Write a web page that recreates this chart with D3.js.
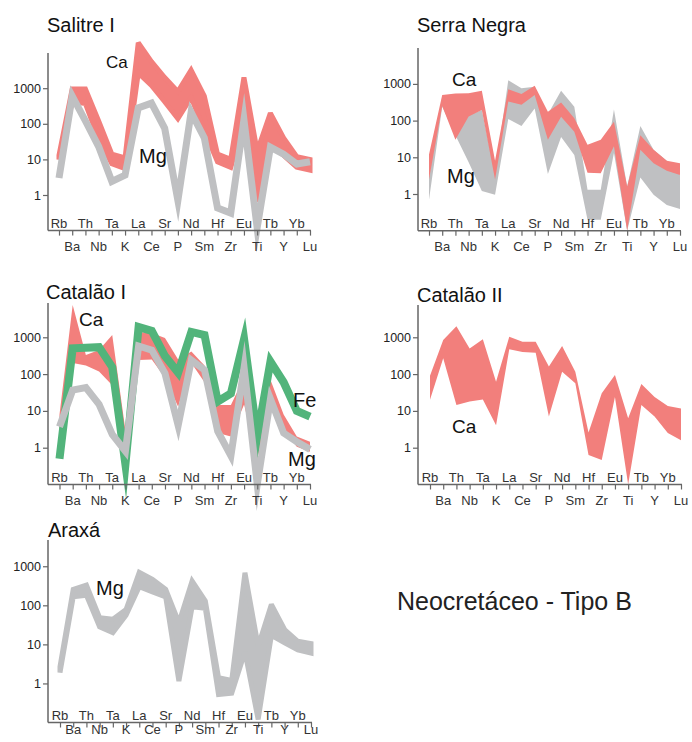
<!DOCTYPE html>
<html>
<head>
<meta charset="utf-8">
<script src="https://cdn.jsdelivr.net/npm/d3@7"></script>
<style>
  body { margin: 0; background: #fff; }
  svg { display: block; font-family: "Liberation Sans", Arial, Helvetica, sans-serif; }
</style>
</head>
<body>
<svg id="chart" width="692" height="742"></svg>
<script>
// Elements of the spider diagram (normalised concentrations, log scale)
const elements = ["Rb","Ba","Th","Nb","Ta","K","La","Ce","Sr","P","Nd","Sm","Hf","Zr","Eu","Ti","Tb","Y","Yb","Lu"];
const yTickValues = [1, 10, 100, 1000];

// Salitre I
const salitreCaMax = [13, 950, 950, 120, 14, 11, 19000, 5600, 2000, 800, 3200, 600, 14, 10, 2000, 17, 200, 40, 12, 10];
const salitreCaMin = [10, 420, 370, 38, 7.5, 5.5, 2700, 1200, 420, 140, 550, 65, 8.5, 6, 110, 0.65, 25, 13, 6, 5];
const salitreMg    = [3, 600, 120, 23, 2.4, 3.6, 280, 380, 75, 0.7, 210, 40, 0.43, 0.31, 130, 0.12, 22, 14, 7.4, 8.6];

// Serra Negra
const serraCaMax = [12, 500, 550, 560, 650, 8, 710, 530, 890, 175, 310, 115, 22, 30, 93, 1.6, 40, 16, 8.1, 6.9];
const serraCaMin = [2.5, 250, 30, 130, 195, 2.5, 330, 270, 500, 30, 128, 50, 3.8, 3.7, 20, 0.1, 16, 6.9, 4.3, 3.3];
const serraMgMax = [3, 450, 400, 140, 195, 3.5, 1250, 760, 840, 150, 650, 240, 1.3, 1.3, 200, 1.6, 71, 16, 8, 3.3];
const serraMgMin = [0.7, 240, 40, 7.3, 1.2, 0.95, 110, 71, 215, 3.5, 36, 11.5, 0.2, 0.2, 13, 0.1, 2.8, 0.95, 0.5, 0.39];

// Catalão I
const catalao1CaMax = [8, 7500, 330, 450, 1150, 3, 1400, 1300, 950, 250, 410, 170, 14.5, 14.5, 80, 3, 70, 8, 2, 1.45];
const catalao1CaMin = [1, 200, 170, 117, 50, 0.5, 240, 250, 80, 13, 200, 60, 2.5, 2, 15, 0.5, 14, 3, 1.06, 0.78];
const catalao1Fe    = [0.5, 500, 520, 540, 155, 0.35, 1900, 1500, 310, 110, 1400, 1150, 18, 30, 900, 2, 220, 60, 10, 7];
const catalao1Mg    = [3.7, 37, 43, 15, 2.3, 0.8, 580, 450, 105, 4, 240, 130, 2.8, 0.6, 150, 0.1, 21, 2.5, 1.45, 0.9];

// Catalão II
const catalao2CaMax = [90, 850, 2000, 500, 880, 62, 1040, 760, 760, 160, 580, 115, 2.6, 30, 94, 6.3, 54, 24, 13.5, 11.7];
const catalao2CaMin = [20, 270, 14.5, 18, 20.5, 4.1, 470, 400, 380, 7, 115, 56, 0.63, 0.46, 24, 0.1, 14.5, 7, 2.5, 1.6];

// Araxá
const araxaMgMax = [2.7, 255, 330, 48, 44, 78, 700, 460, 255, 36, 420, 130, 1.4, 1.2, 680, 9, 105, 24, 12, 10.5];
const araxaMgMin = [1.9, 165, 180, 28, 20, 56, 300, 220, 165, 1.15, 92, 84, 0.52, 0.56, 6.5, 0.12, 17, 11, 7.2, 6];

const colors = { Ca: "#f27f7c", Mg: "#bfc0c2", Fe: "#52b47b" };

const panels = [
  { title: "Salitre I", titleX: 47, titleY: 32, axisX: 48, x0: 59, x1: 310, yBottom: 230.6, yTop: 52.6, axisTop: 53, lowerDy: 20,
    layers: [
      { type: "band", max: salitreCaMax, min: salitreCaMin, color: colors.Ca, outline: 5 },
      { type: "line", values: salitreMg, color: colors.Mg, width: 7 }
    ],
    labels: [ { text: "Ca", x: 106, y: 68, size: 17 }, { text: "Mg", x: 139, y: 163, size: 20 } ] },
  { title: "Serra Negra", titleX: 417, titleY: 32, axisX: 418, x0: 429, x1: 680, yBottom: 230.7, yTop: 47.2, axisTop: 48, lowerDy: 20,
    layers: [
      { type: "band", max: serraMgMax, min: serraMgMin, color: colors.Mg },
      { type: "band", max: serraCaMax, min: serraCaMin, color: colors.Ca }
    ],
    labels: [ { text: "Ca", x: 452, y: 86, size: 19 }, { text: "Mg", x: 447, y: 183, size: 20 } ] },
  { title: "Catalão I", titleX: 46, titleY: 299, axisX: 48, x0: 59.5, x1: 310, yBottom: 484.5, yTop: 300.5, axisTop: 303, lowerDy: 20,
    layers: [
      { type: "band", max: catalao1CaMax, min: catalao1CaMin, color: colors.Ca },
      { type: "line", values: catalao1Fe, color: colors.Fe, width: 8 },
      { type: "line", values: catalao1Mg, color: colors.Mg, width: 7 }
    ],
    labels: [ { text: "Ca", x: 79, y: 326, size: 19 }, { text: "Fe", x: 293, y: 407, size: 20 }, { text: "Mg", x: 288, y: 466, size: 20 } ] },
  { title: "Catalão II", titleX: 417, titleY: 302, axisX: 418, x0: 430, x1: 681, yBottom: 484.5, yTop: 300.5, axisTop: 305, lowerDy: 20,
    layers: [
      { type: "band", max: catalao2CaMax, min: catalao2CaMin, color: colors.Ca }
    ],
    labels: [ { text: "Ca", x: 452, y: 433, size: 19 } ] },
  { title: "Araxá", titleX: 48, titleY: 537, axisX: 48, x0: 60, x1: 311, yBottom: 722.5, yTop: 527.2, axisTop: 540, lowerDy: 11,
    layers: [
      { type: "band", max: araxaMgMax, min: araxaMgMin, color: colors.Mg, outline: 5 }
    ],
    labels: [ { text: "Mg", x: 96, y: 595, size: 20 } ] }
];

const svg = d3.select("#chart");

panels.forEach(p => {
  const g = svg.append("g");
  const x = d3.scalePoint().domain(elements).range([p.x0, p.x1]);
  const y = d3.scaleLog().domain([0.1, 10000]).range([p.yBottom, p.yTop]);
  const axisY = p.yBottom;

  // data layers: min–max envelopes and single thick profiles
  p.layers.forEach(layer => {
    if (layer.type === "band") {
      const rows = elements.map((e, i) => ({ e, lo: layer.min[i], hi: layer.max[i] }));
      const area = d3.area().x(d => x(d.e)).y0(d => y(d.lo)).y1(d => y(d.hi));
      const path = g.append("path").attr("d", area(rows)).attr("fill", layer.color);
      if (layer.outline) {
        path.attr("stroke", layer.color).attr("stroke-width", layer.outline)
          .attr("stroke-linejoin", "miter").attr("stroke-miterlimit", 2.5);
      }
    } else {
      const rows = elements.map((e, i) => ({ e, v: layer.values[i] }));
      const line = d3.line().x(d => x(d.e)).y(d => y(d.v));
      g.append("path").attr("d", line(rows))
        .attr("fill", "none").attr("stroke", layer.color)
        .attr("stroke-width", layer.width)
        .attr("stroke-linejoin", "miter").attr("stroke-miterlimit", 12)
        .attr("stroke-linecap", "butt");
    }
  });

  // y axis
  const ya = g.append("g").attr("transform", `translate(${p.axisX},0)`)
    .call(d3.axisLeft(y).tickValues(yTickValues).tickFormat(d3.format("d")).tickSize(5).tickPadding(2));
  ya.select(".domain").remove();
  ya.selectAll(".tick line").attr("stroke", "#666").attr("stroke-width", 1.2);
  ya.selectAll(".tick text").attr("fill", "#222").style("font-size", "12.5px")
    .style("font-family", "\"Liberation Sans\", Arial, sans-serif");
  g.append("line").attr("x1", p.axisX).attr("x2", p.axisX).attr("y1", p.axisTop).attr("y2", axisY)
    .attr("stroke", "#666").attr("stroke-width", 1.5);

  // x axis
  const xa = g.append("g").attr("transform", `translate(0,${axisY})`)
    .call(d3.axisBottom(x).tickSize(5).tickFormat(""));
  xa.select(".domain").remove();
  xa.selectAll(".tick line").attr("stroke", "#666").attr("stroke-width", 1.2);
  g.append("line").attr("x1", p.axisX).attr("x2", p.x1 + 1).attr("y1", axisY).attr("y2", axisY)
    .attr("stroke", "#666").attr("stroke-width", 1.5);

  g.selectAll("text.el").data(elements).join("text")
    .attr("class", "el")
    .attr("x", d => x(d))
    .attr("y", (d, i) => i % 2 === 0 ? axisY - 3 : axisY + p.lowerDy)
    .attr("text-anchor", "middle")
    .attr("fill", "#333")
    .style("font-size", "13px")
    .text(d => d);

  // title
  g.append("text").attr("x", p.titleX).attr("y", p.titleY)
    .style("font-size", "20px").attr("fill", "#111").text(p.title);

  // series labels
  p.labels.forEach(l => {
    g.append("text").attr("x", l.x).attr("y", l.y)
      .style("font-size", l.size + "px").attr("fill", "#111").text(l.text);
  });
});

svg.append("text").attr("x", 397).attr("y", 610)
  .style("font-size", "25px").attr("fill", "#222").text("Neocretáceo - Tipo B");
</script>
</body>
</html>
